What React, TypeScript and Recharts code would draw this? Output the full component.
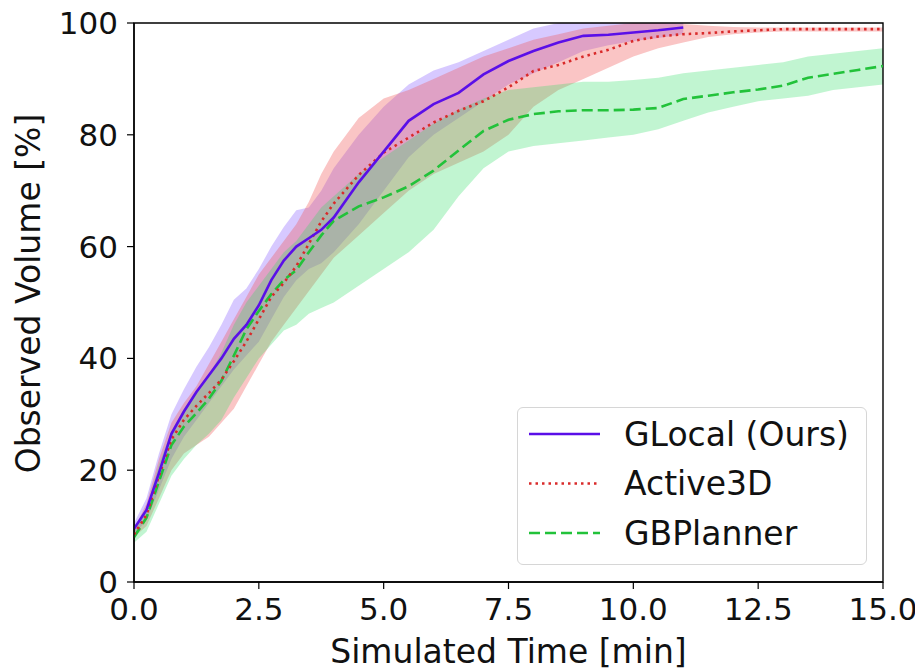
import React from "react";
import {
  ComposedChart,
  Line,
  Area,
  XAxis,
  YAxis,
  ReferenceArea,
} from "recharts";

// Simulated time [min]
const TIME = [
  0, 0.25, 0.5, 0.75, 1, 1.25, 1.5, 1.75, 2, 2.25, 2.5, 2.75, 3, 3.25, 3.5, 3.75,
  4, 4.5, 5, 5.5, 6, 6.5, 7, 7.5, 8, 8.5, 9, 9.5, 10, 10.5, 11, 11.5, 12, 12.5,
  13, 13.5, 14, 14.5, 15,
];

// GLocal (Ours) — ends at 11 min
const GLOCAL_MEAN = [
  9.5, 12.9, 19.5, 26.5, 30.5, 34, 37, 40, 43.5, 46, 49.5, 54, 57.5, 60, 61.5, 63,
  65.2, 71.5, 77, 82.5, 85.5, 87.5, 90.8, 93.2, 95, 96.5, 97.7, 97.9, 98.3, 98.7, 99.2,
];
const GLOCAL_LO = [
  8.5, 11, 16.5, 22, 26, 29, 32, 35, 38, 40.5, 43, 47, 51, 54, 56, 57,
  59, 64, 70, 76, 80, 83, 86, 89, 91, 93, 95, 96, 96.8, 97.3, 98,
];
const GLOCAL_HI = [
  10.5, 15, 23, 30, 34.5, 38.5, 42, 46, 50.5, 52.5, 56, 60, 63.5, 66.5, 67, 70,
  74, 80, 85, 89, 91.5, 93, 95, 97, 99, 100, 100, 100, 100, 100, 100,
];

// Active3D
const ACTIVE_MEAN = [
  8.5, 12, 19, 25.5, 29, 31.5, 33.8, 36.2, 39.5, 43, 47, 51, 53.5, 56.5, 60.5, 64.5,
  67.7, 72.8, 76.8, 79.5, 82.2, 84.3, 86, 88.5, 91.4, 92.5, 94, 95.2, 96.8, 97.6, 98, 98.2,
  98.5, 98.7, 98.9, 98.9, 98.9, 98.9, 98.9,
];
const ACTIVE_LO = [
  8, 10, 15, 20, 23, 24.5, 26, 28.5, 31, 35, 39, 43, 46, 49, 52, 55,
  58, 62, 66, 70, 73, 75, 77, 80, 85, 88, 90, 92, 94, 95.5, 96.5, 97.5,
  98, 98.3, 98.5, 98.5, 98.5, 98.5, 98.5,
];
const ACTIVE_HI = [
  9.5, 14, 22, 28.5, 32, 35, 39, 43, 47, 51, 55, 58, 61, 64, 68, 73,
  77, 83, 86.5, 88, 90, 92, 94, 95.5, 97, 98, 99, 99.5, 100, 100, 99.8, 99.5,
  99.3, 99.2, 99.2, 99.2, 99.2, 99.2, 99.2,
];

// GBPlanner
const GB_MEAN = [
  8, 11.5, 18, 24.5, 27.8, 30.2, 32.8, 36, 40.5, 45.2, 48.5, 51.5, 54, 55.8, 59, 62,
  64.6, 67.2, 68.8, 70.8, 73.6, 77.2, 80.7, 82.7, 83.7, 84.2, 84.4, 84.4, 84.5, 84.8, 86.4, 87,
  87.6, 88.1, 88.8, 90.2, 90.9, 91.6, 92.3,
];
const GB_LO = [
  7, 9, 14, 19, 22, 24.5, 26.5, 29, 33, 36.5, 40, 42.5, 45, 46, 48, 49,
  50, 53, 56, 59, 63, 69, 74, 77, 78, 78.5, 79, 79.5, 80, 81, 82.5, 84,
  85, 86, 86.5, 87, 88, 88.5, 89,
];
const GB_HI = [
  9, 13, 21, 27, 31, 34, 37, 41, 46, 50, 53, 56, 59, 61, 64, 67,
  69, 73, 76, 79, 82, 84.5, 86.5, 88, 88.5, 89, 89.5, 89.5, 89.8, 90.2, 91, 91.5,
  92, 92.5, 93, 94, 94.5, 95, 95.5,
];

const X_TICKS = [0, 2.5, 5, 7.5, 10, 12.5, 15];
const Y_TICKS = [0, 20, 40, 60, 80, 100];

const SERIES_NAMES = ["GLocal (Ours)", "Active3D", "GBPlanner"];

const build = (mean: number[], lo: number[], hi: number[]) =>
  mean.map((v, i) => ({ t: TIME[i], mean: v, band: [lo[i], hi[i]] }));

const glocalData = build(GLOCAL_MEAN, GLOCAL_LO, GLOCAL_HI);
const activeData = build(ACTIVE_MEAN, ACTIVE_LO, ACTIVE_HI);
const gbData = build(GB_MEAN, GB_LO, GB_HI);

const FONT = "'DejaVu Sans', sans-serif";
const C_PURPLE = "#5a0fe8";
const C_RED = "#d92a2a";
const C_GREEN = "#22c23a";

const tickStyle = { fontFamily: FONT, fontSize: 31, fill: "#111" };

const YLabel = (props: any) => {
  const vb = props.viewBox || { x: 0, y: 0, width: 0, height: 0 };
  const cx = 20;
  const cy = vb.y + vb.height / 2 - 9;
  return (
    <text
      x={cx}
      y={cy}
      transform={`rotate(-90, ${cx}, ${cy})`}
      textAnchor="middle"
      dominantBaseline="central"
      style={{ fontFamily: FONT, fontSize: 33, fill: "#111" }}
    >
      Observed Volume [%]
    </text>
  );
};

const XLabel = (props: any) => {
  const vb = props.viewBox || { x: 0, y: 0, width: 0, height: 0 };
  return (
    <text
      x={vb.x + vb.width / 2}
      y={655}
      textAnchor="middle"
      style={{ fontFamily: FONT, fontSize: 33, fill: "#111" }}
    >
      Simulated Time [min]
    </text>
  );
};

const LegendBox = () => {
  const rows = [
    { name: SERIES_NAMES[0], color: C_PURPLE, dash: undefined },
    { name: SERIES_NAMES[1], color: C_RED, dash: "2.5 4" },
    { name: SERIES_NAMES[2], color: C_GREEN, dash: "11 5" },
  ];
  return (
    <div
      style={{
        position: "absolute",
        left: 508.5,
        top: 398.5,
        width: 350,
        height: 158,
        border: "1.5px solid #d6d6d6",
        borderRadius: 6,
        background: "rgba(255,255,255,0.8)",
        boxSizing: "border-box",
      }}
    >
      <svg width={350} height={158} style={{ position: "absolute", left: 0, top: 0 }}>
        {rows.map((r, i) => {
          const cy = 26 + i * 49.5;
          return (
            <g key={r.name}>
              <line
                x1={11}
                x2={82}
                y1={cy}
                y2={cy}
                stroke={r.color}
                strokeWidth={2.6}
                strokeDasharray={r.dash}
              />
              <text
                x={106}
                y={cy}
                dominantBaseline="central"
                style={{ fontFamily: FONT, fontSize: 33, fill: "#111" }}
              >
                {r.name}
              </text>
            </g>
          );
        })}
      </svg>
    </div>
  );
};

export default function App() {
  return (
    <div style={{ position: "relative", width: 915, height: 662 }}>
      <ComposedChart
        width={915}
        height={662}
        margin={{ top: 15, right: 40, bottom: 0, left: 0 }}
      >
        <XAxis
          dataKey="t"
          type="number"
          domain={[0, 15]}
          ticks={X_TICKS}
          allowDataOverflow
          tickFormatter={(v: number) => v.toFixed(1)}
          tick={tickStyle}
          tickSize={7}
          tickMargin={9}
          height={88}
          stroke="#000"
          axisLine={{ stroke: "#000", strokeWidth: 1.4 }}
          tickLine={{ stroke: "#000", strokeWidth: 1.2 }}
          label={<XLabel />}
          interval={0}
        />
        <YAxis
          type="number"
          domain={[0, 100]}
          ticks={Y_TICKS}
          allowDataOverflow
          tick={tickStyle}
          tickSize={7}
          tickMargin={9}
          width={126}
          stroke="#000"
          axisLine={{ stroke: "#000", strokeWidth: 1.4 }}
          tickLine={{ stroke: "#000", strokeWidth: 1.2 }}
          label={<YLabel />}
          interval={0}
        />

        <Area
          data={glocalData}
          dataKey="band"
          type="linear"
          stroke="none"
          fill="#7b4dff"
          fillOpacity={0.3}
          isAnimationActive={false}
          activeDot={false}
        />
        <Area
          data={activeData}
          dataKey="band"
          type="linear"
          stroke="none"
          fill="#f05050"
          fillOpacity={0.33}
          isAnimationActive={false}
          activeDot={false}
        />
        <Area
          data={gbData}
          dataKey="band"
          type="linear"
          stroke="none"
          fill="#33dd66"
          fillOpacity={0.3}
          isAnimationActive={false}
          activeDot={false}
        />

        <Line
          data={gbData}
          dataKey="mean"
          name={SERIES_NAMES[2]}
          type="linear"
          stroke={C_GREEN}
          strokeWidth={2.6}
          strokeDasharray="11 5"
          dot={false}
          activeDot={false}
          isAnimationActive={false}
        />
        <Line
          data={activeData}
          dataKey="mean"
          name={SERIES_NAMES[1]}
          type="linear"
          stroke={C_RED}
          strokeWidth={2.6}
          strokeDasharray="2.5 4"
          dot={false}
          activeDot={false}
          isAnimationActive={false}
        />
        <Line
          data={glocalData}
          dataKey="mean"
          name={SERIES_NAMES[0]}
          type="linear"
          stroke={C_PURPLE}
          strokeWidth={2.6}
          dot={false}
          activeDot={false}
          isAnimationActive={false}
        />
        <ReferenceArea
          x1={0}
          x2={15}
          y1={0}
          y2={100}
          fill="none"
          fillOpacity={0}
          stroke="#000"
          strokeWidth={1.4}
          ifOverflow="visible"
        />
      </ComposedChart>
      <LegendBox />
    </div>
  );
}
